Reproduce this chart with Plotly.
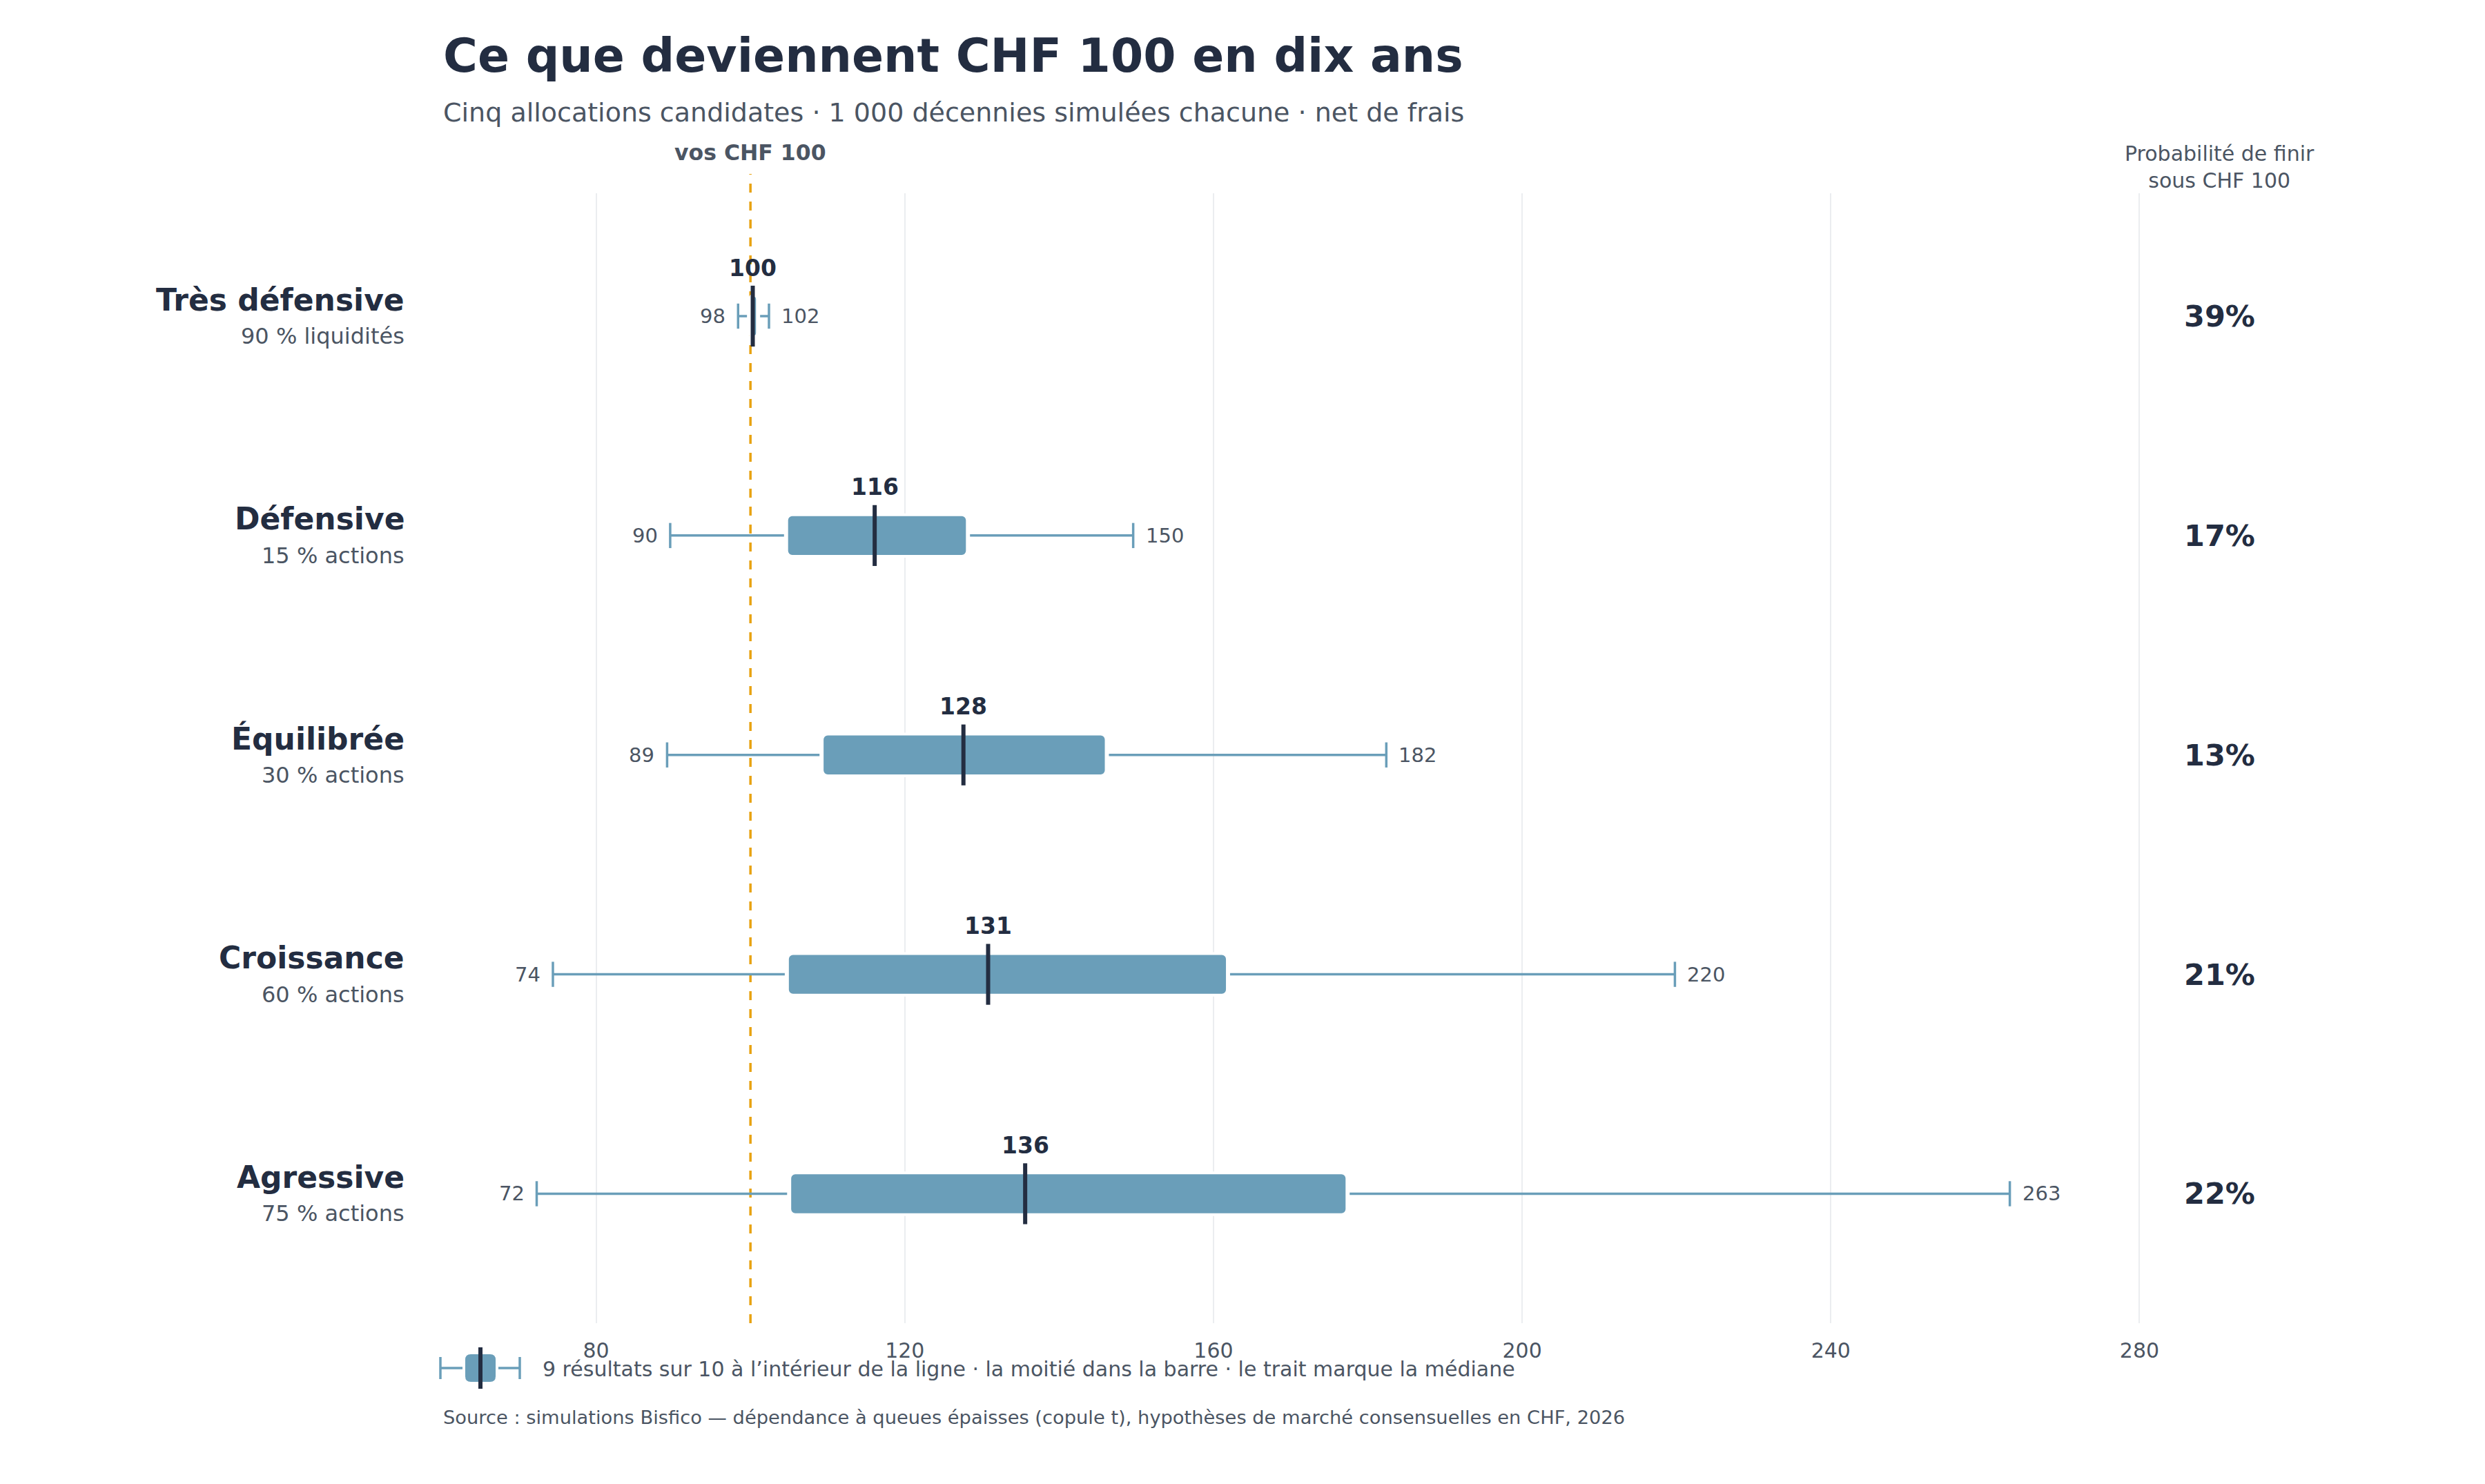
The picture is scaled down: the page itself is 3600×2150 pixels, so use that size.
import plotly.graph_objects as go

# ---------------- data ----------------
allocations = ["Très défensive", "Défensive", "Équilibrée", "Croissance", "Agressive"]
sublabels = ["90 % liquidités", "15 % actions", "30 % actions", "60 % actions", "75 % actions"]
p5 = [98.4, 89.6, 89.2, 74.4, 72.3]
q25 = [99.9, 104.7, 109.3, 104.8, 105.1]
median = [100.3, 116.1, 127.6, 130.8, 135.6]
q75 = [100.9, 128.1, 146.1, 161.8, 177.3]
p95 = [102.4, 149.6, 182.4, 219.8, 263.2]
prob_below = [39, 17, 13, 21, 22]
x_ticks = [80, 120, 160, 200, 240, 280]
reference_value = 100

# ---------------- styles ----------------
DARK = "#232d41"
GRAY = "#4b5563"
BOX = "#6a9eb9"
ORANGE = "#e8a210"
GRID = "#ebedf0"
FONT = "DejaVu Sans"

W, H = 3600, 2150
ML, MR, MT, MB = 640, 277, 280, 233
PLOT_H = H - MT - MB
X_RANGE = [60, 300]
Y_RANGE = [4.59, -0.56]
WHISKER_GAP = 0.35
PROB_X = 290.4

def ypx(px):
    return 1 + (MT - px) / PLOT_H

def xpx(px):
    return (px - ML) / (W - ML - MR)

rows = list(range(len(allocations)))
fig = go.Figure()

# boxes (interquartile)
fig.add_trace(go.Bar(
    y=rows, x=[b - a for a, b in zip(q25, q75)], base=q25, orientation="h",
    width=0.19, marker=dict(color=BOX, line=dict(color="white", width=4), cornerradius=8),
    hoverinfo="skip", showlegend=False))

# whiskers
wx, wy = [], []
for i in rows:
    wx += [p5[i], q25[i] - WHISKER_GAP, None, q75[i] + WHISKER_GAP, p95[i], None]
    wy += [i, i, None, i, i, None]
fig.add_trace(go.Scatter(x=wx, y=wy, mode="lines", line=dict(color=BOX, width=3.5),
                         hoverinfo="skip", showlegend=False))
# whisker caps
fig.add_trace(go.Scatter(x=p5 + p95, y=rows + rows, mode="markers",
                         marker=dict(symbol="line-ns", size=26, line=dict(color=BOX, width=3.5)),
                         hoverinfo="skip", showlegend=False))
# medians
fig.add_trace(go.Scatter(x=median, y=rows, mode="markers",
                         marker=dict(symbol="line-ns", size=63, line=dict(color=DARK, width=6)),
                         hoverinfo="skip", showlegend=False))

ann = []
for i in rows:
    ann.append(dict(x=median[i], y=i, xref="x", yref="y", text=f"<b>{round(median[i])}</b>",
                    showarrow=False, yanchor="middle", yshift=70,
                    font=dict(size=33, color=DARK, family=FONT)))
    ann.append(dict(x=p5[i], y=i, xref="x", yref="y", text=f"{round(p5[i])}",
                    showarrow=False, xanchor="right", xshift=-16, yanchor="middle",
                    font=dict(size=29, color=GRAY, family=FONT)))
    ann.append(dict(x=p95[i], y=i, xref="x", yref="y", text=f"{round(p95[i])}",
                    showarrow=False, xanchor="left", xshift=16, yanchor="middle",
                    font=dict(size=29, color=GRAY, family=FONT)))
    ann.append(dict(x=xpx(588), y=i, xref="paper", yref="y", text=f"<b>{allocations[i]}</b>",
                    showarrow=False, xanchor="right", yanchor="middle", yshift=24,
                    font=dict(size=44, color=DARK, family=FONT)))
    ann.append(dict(x=xpx(588), y=i, xref="paper", yref="y", text=sublabels[i],
                    showarrow=False, xanchor="right", yanchor="middle", yshift=-29,
                    font=dict(size=32, color=GRAY, family=FONT)))
    ann.append(dict(x=PROB_X, y=i, xref="x", yref="y", text=f"<b>{prob_below[i]}%</b>",
                    showarrow=False, xanchor="center", yanchor="middle",
                    font=dict(size=43, color=DARK, family=FONT)))

ann.append(dict(x=PROB_X, y=ypx(242), xref="x", yref="paper",
                text="Probabilité de finir<br>sous CHF 100", showarrow=False,
                xanchor="center", yanchor="middle",
                font=dict(size=30, color=GRAY, family=FONT)))
ann.append(dict(x=reference_value, y=ypx(221), xref="x", yref="paper",
                text=f"<b>vos CHF {reference_value}</b>", showarrow=False,
                xanchor="center", yanchor="middle",
                font=dict(size=31.5, color=GRAY, family=FONT)))
ann.append(dict(x=0, y=ypx(81), xref="paper", yref="paper", xanchor="left", yanchor="middle",
                text="<b>Ce que deviennent CHF 100 en dix ans</b>", showarrow=False,
                font=dict(size=68, color=DARK, family=FONT)))
ann.append(dict(x=0, y=ypx(163), xref="paper", yref="paper", xanchor="left", yanchor="middle",
                text="Cinq allocations candidates · 1 000 décennies simulées chacune · net de frais",
                showarrow=False, font=dict(size=38, color=GRAY, family=FONT)))
ann.append(dict(x=xpx(784), y=ypx(1983), xref="paper", yref="paper", xanchor="left", yanchor="middle",
                text="9 résultats sur 10 à l’intérieur de la ligne · la moitié dans la barre · le trait marque la médiane",
                showarrow=False, font=dict(size=30, color=GRAY, family=FONT)))
ann.append(dict(x=0, y=ypx(2053), xref="paper", yref="paper", xanchor="left", yanchor="middle",
                text="Source : simulations Bisfico — dépendance à queues épaisses (copule t), hypothèses de marché consensuelles en CHF, 2026",
                showarrow=False, font=dict(size=27.3, color=GRAY, family=FONT)))

# reference line
shapes = [dict(type="line", xref="x", yref="paper", x0=reference_value, x1=reference_value,
               y0=0, y1=ypx(252), layer="between",
               line=dict(color=ORANGE, width=3.5, dash="13px,13px"))]

# legend glyph (pixel-sized, anchored in paper coords)
lx, ly = xpx(696), ypx(1982)
def pix_shape(path, **kw):
    d = dict(type="path", xref="paper", yref="paper", xsizemode="pixel", ysizemode="pixel",
             xanchor=lx, yanchor=ly, path=path)
    d.update(kw)
    return d
shapes += [
    pix_shape("M-58,0 L-26,0 M26,0 L57,0 M-58,-16 L-58,16 M57,-16 L57,16",
              line=dict(color=BOX, width=3.5)),
    pix_shape("M-14,-20 L14,-20 Q22,-20 22,-12 L22,12 Q22,20 14,20 L-14,20 Q-22,20 -22,12 L-22,-12 Q-22,-20 -14,-20 Z",
              fillcolor=BOX, line=dict(width=0)),
    pix_shape("M0,-30 L0,30", line=dict(color=DARK, width=6)),
]

fig.update_layout(
    width=W, height=H,
    margin=dict(l=ML, r=MR, t=MT, b=MB, pad=0),
    plot_bgcolor="white", paper_bgcolor="white",
    font=dict(family=FONT, color=GRAY),
    barmode="overlay",
    xaxis=dict(range=X_RANGE, tickvals=x_ticks, ticktext=[str(t) for t in x_ticks],
               showgrid=True, gridcolor=GRID, gridwidth=2, zeroline=False, showline=False,
               ticks="", tickfont=dict(size=30, color=GRAY, family=FONT), ticklabelstandoff=19),
    yaxis=dict(range=Y_RANGE, showgrid=False, zeroline=False, showticklabels=False,
               showline=False, ticks=""),
    annotations=ann, shapes=shapes, showlegend=False,
)

fig.write_html("out.html")
